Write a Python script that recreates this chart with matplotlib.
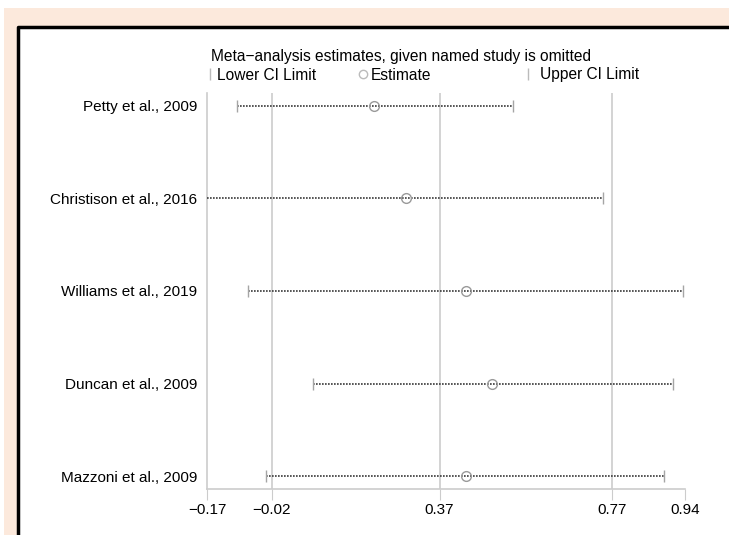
import numpy as np
import matplotlib.pyplot as plt
from matplotlib.lines import Line2D
from matplotlib.patches import Rectangle

plt.rcParams['font.family'] = ['Liberation Sans', 'DejaVu Sans']

# leave-one-out meta-analysis estimates
studies = ['Petty et al., 2009', 'Christison et al., 2016', 'Williams et al., 2019',
           'Duncan et al., 2009', 'Mazzoni et al., 2009']
lower = [-0.10, -0.19, -0.075, 0.076, -0.033]
estimate = [0.218, 0.292, 0.431, 0.492, 0.431]
upper = [0.541, 0.750, 0.935, 0.912, 0.891]
xticks = [-0.17, -0.02, 0.37, 0.77, 0.94]
gridlines = [-0.02, 0.37, 0.77]
legend_labels = ['Lower CI Limit', 'Estimate', 'Upper CI Limit']

W, H = 729, 535
fig = plt.figure(figsize=(W / 100, H / 100), dpi=100)
fig.patch.set_facecolor('white')
# peach page background and black frame (left and top edges only)
fig.patches.append(Rectangle((4 / W, 0), 1, 1 - 8 / H, transform=fig.transFigure,
                             facecolor='#fce9dc', edgecolor='none', zorder=-3))
fig.patches.append(Rectangle((18 / W, 0), 1, 1 - 27 / H, transform=fig.transFigure,
                             facecolor='white', edgecolor='none', zorder=-2))
fig.add_artist(Line2D([18 / W, 18 / W, 1], [0, 1 - 27 / H, 1 - 27 / H],
                      transform=fig.transFigure, color='black', linewidth=2.5))

ax = fig.add_axes([207 / W, 1 - 489 / H, (685 - 207) / W, (489 - 93) / H])
ax.set_facecolor('none')

ypos = np.arange(len(studies), 0, -1)
for y, lo, est, up in zip(ypos, lower, estimate, upper):
    ax.plot([lo, up], [y, y], linestyle=(0, (1, 0.8)), color='#3a3a3a', linewidth=1.2, zorder=3)
ax.plot(lower, ypos, linestyle='none', marker='|', markersize=9, color='#a5a5a5', zorder=4)
ax.plot(upper, ypos, linestyle='none', marker='|', markersize=9, color='#a5a5a5', zorder=4)
ax.plot(estimate, ypos, linestyle='none', marker='o', markersize=7, markerfacecolor='none',
        markeredgecolor='#9a9a9a', markeredgewidth=1.0, zorder=5)

for g in gridlines:
    ax.axvline(g, color='#cccccc', linewidth=1.2, zorder=1)

ax.set_xlim(-0.17, 0.94)
ax.set_ylim(0.86, 5.14)
ax.set_xticks(xticks)
ax.set_xticklabels(['\u22120.17', '\u22120.02', '0.37', '0.77', '0.94'])
ax.set_yticks(ypos)
ax.set_yticklabels(studies)
ax.tick_params(axis='x', length=8, color='#cccccc', labelsize=11, pad=2)
ax.tick_params(axis='y', length=0, labelsize=11, pad=7)
for s in ['top', 'right']:
    ax.spines[s].set_visible(False)
for s in ['left', 'bottom']:
    ax.spines[s].set_color('#cccccc')
    ax.spines[s].set_linewidth(1.2)

fig.text(211 / W, 1 - 57 / H, 'Meta\u2212analysis estimates, given named study is omitted',
         fontsize=11.2, ha='left', va='center')

handles = [Line2D([], [], linestyle='none', marker='|', markersize=9, color='#bbbbbb'),
           Line2D([], [], linestyle='none', marker='o', markersize=6, markerfacecolor='none',
                  markeredgecolor='#bbbbbb'),
           Line2D([], [], linestyle='none', marker='|', markersize=9, color='#bbbbbb')]
legend_x = [205, 358, 523]
for h, lab, lx in zip(handles, legend_labels, legend_x):
    fig.legend([h], [lab], loc='center left', bbox_to_anchor=(lx / W, 1 - 75 / H),
               frameon=False, fontsize=11.2, handlelength=0.6,
               handletextpad=0.2 if lx != 523 else 0.5,
               borderpad=0, borderaxespad=0)

fig.savefig('out.png', dpi=100)
